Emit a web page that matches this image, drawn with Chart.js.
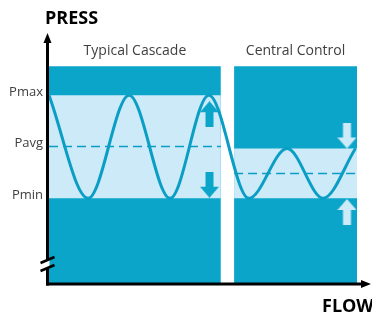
<!DOCTYPE html>
<html><head><meta charset="utf-8">
<script src="https://cdn.jsdelivr.net/npm/chart.js@4.4.1/dist/chart.umd.min.js"></script>
<style>html,body{margin:0;padding:0;background:#fff;overflow:hidden}</style>
</head><body>
<canvas id="c" width="372" height="316"></canvas>
<script>
// panels (categories)
const panels = ['Typical Cascade', 'Central Control'];
const panelStart = [0, 60.1];
const panelEnd = [55.8, 100];
const blockTop = [86.7, 86.7];
const bandHigh = [75.1, 53.8];
const bandLow = [33.9, 33.9];
const avgLevel = [54.6, 43.8];

// pressure wave (peaks / troughs)
const waveX = [0, 12.7, 26, 39.3, 51.9, 64.9, 77.3, 89, 99.5];
const waveY = [75.1, 33.9, 75.1, 33.9, 75.1, 33.9, 53.8, 33.9, 53.8];

// arrows
const arrowX = [52.1, 52.1, 96.75, 96.75];
const arrowY = [67.5, 39.3, 59.0, 28.4];
const arrowDir = ['up', 'down', 'down', 'up'];
const arrowTone = ['dark', 'dark', 'light', 'light'];

// tick labels and axis titles
const tickValues = [75.1, 54.6, 33.9];
const tickLabels = ['Pmax', 'Pavg', 'Pmin'];
const axisTitles = ['PRESS', 'FLOW'];

const DARK = '#0aa5c9', LIGHT = '#cdeaf9', WAVE = '#0b9ec5', TEXT = '#404040';

function makeArrow(dir, color) {
  const c = document.createElement('canvas');
  c.width = 19; c.height = 26;
  const g = c.getContext('2d');
  g.fillStyle = color;
  g.beginPath();
  if (dir === 'up') {
    g.moveTo(9.5, 0); g.lineTo(19, 11); g.lineTo(13.5, 11); g.lineTo(13.5, 26);
    g.lineTo(5.5, 26); g.lineTo(5.5, 11); g.lineTo(0, 11);
  } else {
    g.moveTo(9.5, 26); g.lineTo(19, 15); g.lineTo(13.5, 15); g.lineTo(13.5, 0);
    g.lineTo(5.5, 0); g.lineTo(5.5, 15); g.lineTo(0, 15);
  }
  g.closePath(); g.fill();
  return c;
}
const arrowImgs = arrowDir.map((d, i) => makeArrow(d, arrowTone[i] === 'dark' ? DARK : LIGHT));

const datasets = [];
datasets.push({
  label: 'arrows', data: arrowX.map((x, i) => ({x, y: arrowY[i]})),
  showLine: false, pointRadius: 5, pointStyle: (ctx) => arrowImgs[ctx.dataIndex], order: 0
});
datasets.push({
  label: 'wave', data: waveX.map((x, i) => ({x, y: waveY[i]})),
  borderColor: WAVE, borderWidth: 3, pointRadius: 0, cubicInterpolationMode: 'monotone', fill: false, order: 1
});
panels.forEach((p, i) => {
  datasets.push({
    label: p + ' avg', data: [{x: panelStart[i], y: avgLevel[i]}, {x: panelEnd[i], y: avgLevel[i]}],
    borderColor: WAVE, borderWidth: 1.5, borderDash: [9, 5], pointRadius: 0, fill: false, order: 2
  });
  datasets.push({
    label: p + ' band', data: [{x: panelStart[i], y: bandHigh[i]}, {x: panelEnd[i], y: bandHigh[i]}],
    borderWidth: 0, borderColor: 'rgba(0,0,0,0)', backgroundColor: LIGHT, pointRadius: 0,
    fill: {value: bandLow[i]}, order: 3
  });
  datasets.push({
    label: p + ' block', data: [{x: panelStart[i], y: blockTop[i]}, {x: panelEnd[i], y: blockTop[i]}],
    borderWidth: 0, borderColor: 'rgba(0,0,0,0)', backgroundColor: DARK, pointRadius: 0,
    fill: {value: 0}, order: 4
  });
});

const decor = {
  id: 'decor',
  afterDraw(chart) {
    const {ctx, chartArea: a, scales} = chart;
    ctx.save();
    // axes
    ctx.strokeStyle = '#000'; ctx.fillStyle = '#000'; ctx.lineWidth = 3;
    const ax = a.left - 1.5, ay = a.bottom + 1;
    ctx.beginPath(); ctx.moveTo(ax, ay + 1.5); ctx.lineTo(ax, a.top + 9); ctx.stroke();
    ctx.beginPath(); ctx.moveTo(ax, a.top); ctx.lineTo(ax + 4, a.top + 10); ctx.lineTo(ax - 4, a.top + 10); ctx.closePath(); ctx.fill();
    ctx.beginPath(); ctx.moveTo(ax - 1.5, ay); ctx.lineTo(a.right + 5, ay); ctx.stroke();
    ctx.beginPath(); ctx.moveTo(a.right + 14, ay); ctx.lineTo(a.right + 4, ay - 4); ctx.lineTo(a.right + 4, ay + 4); ctx.closePath(); ctx.fill();
    // axis break
    const by = a.bottom - 23;
    ctx.fillStyle = '#fff';
    ctx.beginPath(); ctx.moveTo(ax - 3, by + 1); ctx.lineTo(ax + 2, by - 1); ctx.lineTo(ax + 2, by + 7); ctx.lineTo(ax - 3, by + 9); ctx.closePath(); ctx.fill();
    ctx.lineWidth = 2.5;
    ctx.beginPath(); ctx.moveTo(ax - 7, by + 3); ctx.lineTo(ax + 7, by - 3); ctx.stroke();
    ctx.beginPath(); ctx.moveTo(ax - 7, by + 11); ctx.lineTo(ax + 7, by + 5); ctx.stroke();
    // panel titles
    ctx.fillStyle = TEXT; ctx.font = '14px "Open Sans"'; ctx.textAlign = 'center'; ctx.textBaseline = 'alphabetic';
    panels.forEach((p, i) => {
      const cx = (scales.x.getPixelForValue(panelStart[i]) + scales.x.getPixelForValue(panelEnd[i])) / 2;
      ctx.fillText(p, cx, a.top + 22);
    });
    // axis titles
    ctx.fillStyle = '#000'; ctx.font = 'bold 18px "Open Sans"'; ctx.textAlign = 'left';
    ctx.fillText(axisTitles[0], a.left - 4, a.top - 9);
    ctx.fillText(axisTitles[1], a.right - 35, a.bottom + 29);
    ctx.restore();
  }
};

new Chart(document.getElementById('c'), {
  type: 'line',
  data: {datasets},
  options: {
    responsive: false, animation: false, events: [],
    layout: {padding: {left: 0, top: 33, right: 15, bottom: 33}},
    plugins: {legend: {display: false}, tooltip: {enabled: false}},
    scales: {
      x: {type: 'linear', min: 0, max: 100, display: false},
      y: {
        type: 'linear', min: 0, max: 100,
        grid: {display: false, drawTicks: false}, border: {display: false},
        afterFit(s) { s.width = 49; },
        afterBuildTicks(s) { s.ticks = tickValues.map(v => ({value: v})); },
        ticks: {
          padding: 6, labelOffset: -3, color: TEXT, font: {family: 'Open Sans', size: 13},
          callback: (v) => tickLabels[tickValues.indexOf(v)]
        }
      }
    }
  },
  plugins: [decor]
});
</script>
</body></html>
